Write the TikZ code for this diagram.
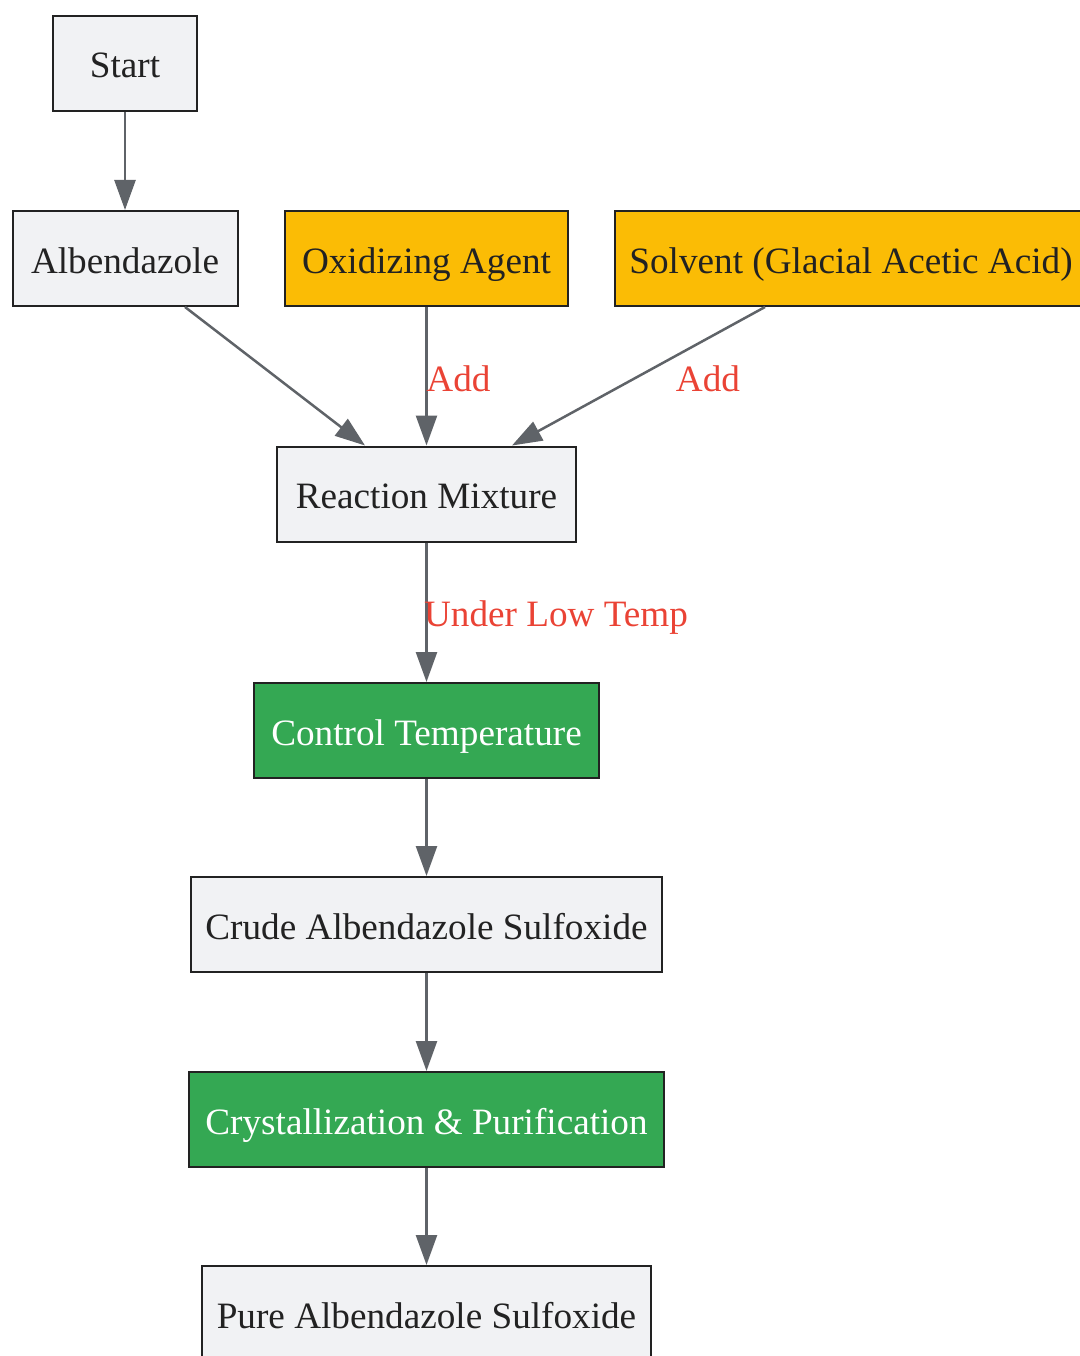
\documentclass[tikz,border=0pt]{standalone}
\usepackage{fontspec}
\setmainfont{Liberation Serif}
\usetikzlibrary{arrows.meta,calc}
\definecolor{boxgrey}{HTML}{F1F2F4}
\definecolor{boxline}{HTML}{222222}
\definecolor{gyellow}{HTML}{FBBC05}
\definecolor{ggreen}{HTML}{34A853}
\definecolor{gred}{HTML}{EA4335}
\definecolor{edgegrey}{HTML}{5F6368}
\tikzset{
  stepbox/.style={draw=boxline, line width=2pt, fill=boxgrey, text=boxline, rectangle,
    inner sep=0pt, minimum height=95pt, text height=36pt, text depth=7pt,
    font=\fontsize{37.2}{44}\selectfont},
  inputbox/.style={stepbox, fill=gyellow},
  actbox/.style={stepbox, fill=ggreen, text=white},
  flow/.style={draw=edgegrey, line width=2.5pt, -{Triangle[length=30pt,width=21pt]}},
  elabel/.style={text=gred, inner sep=0pt, font=\fontsize{37.2}{44}\selectfont}
}
\begin{document}
\begin{tikzpicture}[x=1pt,y=-1pt]
\useasboundingbox (0,0) rectangle (1079,1356);
\node[stepbox, minimum width=144pt] (start) at (125,63.5) {Start};
\node[stepbox, minimum width=225pt] (alb) at (125,258.5) {Albendazole};
\node[inputbox, minimum width=283pt] (ox) at (426.5,258.5) {Oxidizing Agent};
\node[inputbox, minimum width=472pt] (solv) at (851,258.5) {Solvent (Glacial Acetic Acid)};
\node[stepbox, minimum width=299pt] (mix) at (426.5,494) {Reaction Mixture};
\node[actbox, minimum width=345pt] (ctrl) at (426.5,730.5) {Control Temperature};
\node[stepbox, minimum width=471pt] (crude) at (426.5,924.5) {Crude Albendazole Sulfoxide};
\node[actbox, minimum width=475pt] (cryst) at (426.5,1119.5) {Crystallization \& Purification};
\node[stepbox, minimum width=449pt] (pure) at (426.5,1313.5) {Pure Albendazole Sulfoxide};

\draw[flow] (start.south) -- (alb.north);
\draw[flow] ($(alb.south)+(60,0)$) -- ($(mix.north)+(-61.5,0)$);
\draw[flow] (ox.south) -- (mix.north);
\draw[flow] ($(solv.south)+(-86,0)$) -- ($(mix.north)+(85.5,0)$);
\draw[flow] (mix.south) -- (ctrl.north);
\draw[flow] (ctrl.south) -- (crude.north);
\draw[flow] (crude.south) -- (cryst.north);
\draw[flow] (cryst.south) -- (pure.north);

\node[elabel] (l1) at (458.5,379) {Add};
\node[elabel] (l2) at (708,379) {Add};
\node[elabel] (l3) at (556,618) {Under Low Temp};
\end{tikzpicture}
\end{document}
